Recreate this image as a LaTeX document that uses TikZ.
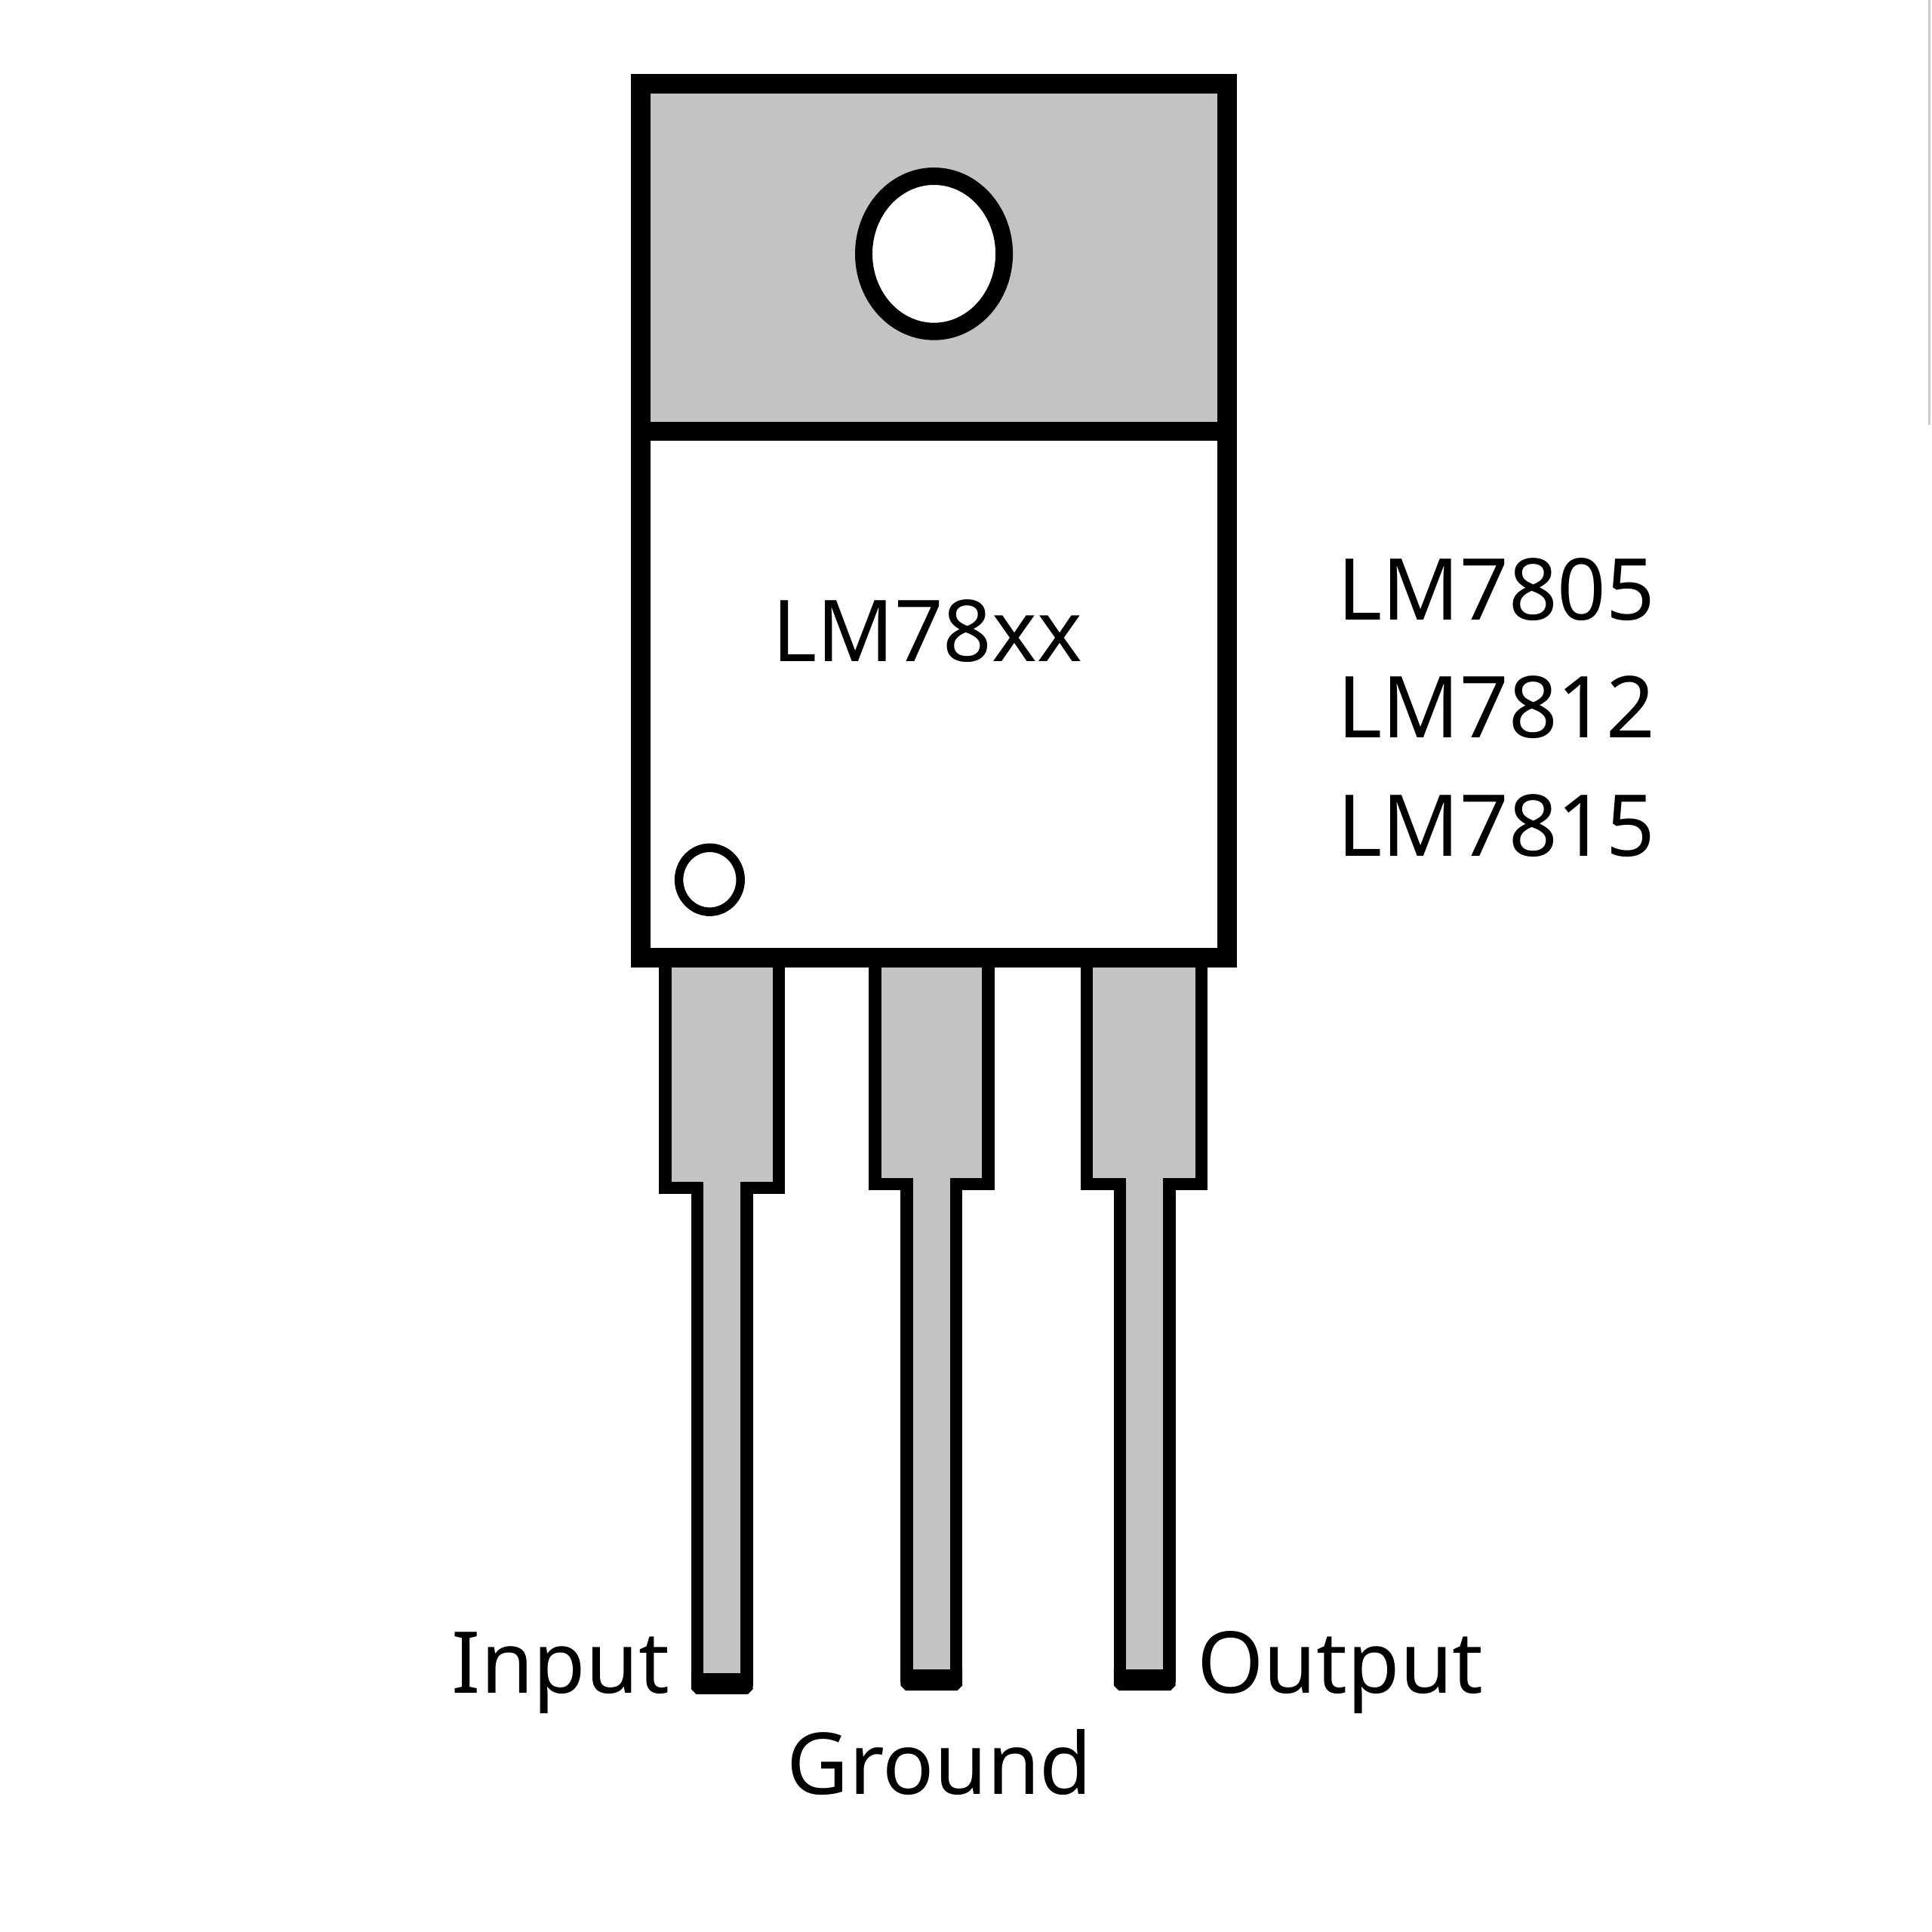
\documentclass[tikz,border=0pt]{standalone}
\usepackage{fontspec}
\setmainfont{Noto Sans}

\begin{document}
\begin{tikzpicture}
  [x=.01cm,y=-.01cm,
   case/.style={draw=black,line width=4.5pt,miter limit=10},
   lead/.style={draw=black,line width=2.9pt,fill=pinGrey},
   every node/.style={inner sep=0pt,anchor=base west,font=\fontsize{19.7}{24}\selectfont}]
  \definecolor{pinGrey}{HTML}{C3C3C3}
  \useasboundingbox (0,0) rectangle (1568,1568);
  \draw[black!20,line width=.6pt] (1566,0) -- (1566,345);

  % leads
  \foreach \wl/\nl/\nr/\wr/\sh/\tip in {540/566/606/632/964/1358,710/736/776/802/961/1355,882/909/949/975/961/1355}
  {
    \draw[lead] (\wl,775) -- (\wr,775) -- (\wr,\sh) -- (\nr,\sh) -- (\nr,\tip+5) -- (\nl,\tip+5) -- (\nl,\sh) -- (\wl,\sh) -- cycle;
    \fill[black] (\nl-5,\tip) -- (\nr+5,\tip) -- (\nr+5,\tip+13) -- (\nr+1,\tip+17) -- (\nl-1,\tip+17) -- (\nl-5,\tip+13) -- cycle;
  }

  % case
  \draw[case,fill=pinGrey] (520,68) rectangle (996,350);
  \draw[case,fill=white] (520,350) rectangle (996,777);
  \draw[black,line width=4pt,fill=white] (758,206) ellipse [x radius=57,y radius=63];
  \draw[black,line width=2pt,fill=white] (576,714) ellipse [x radius=25,y radius=26];

  \node (type) at (626,537) {LM78xx};
  \node (v5) at (1085,503) {LM7805};
  \node (v12) at (1085,599) {LM7812};
  \node (v15) at (1085,695) {LM7815};
  \node (in) at (366,1374) {Input};
  \node (gnd) at (638,1456) {Ground};
  \node (out) at (971,1374) {Output};
\end{tikzpicture}
\end{document}
